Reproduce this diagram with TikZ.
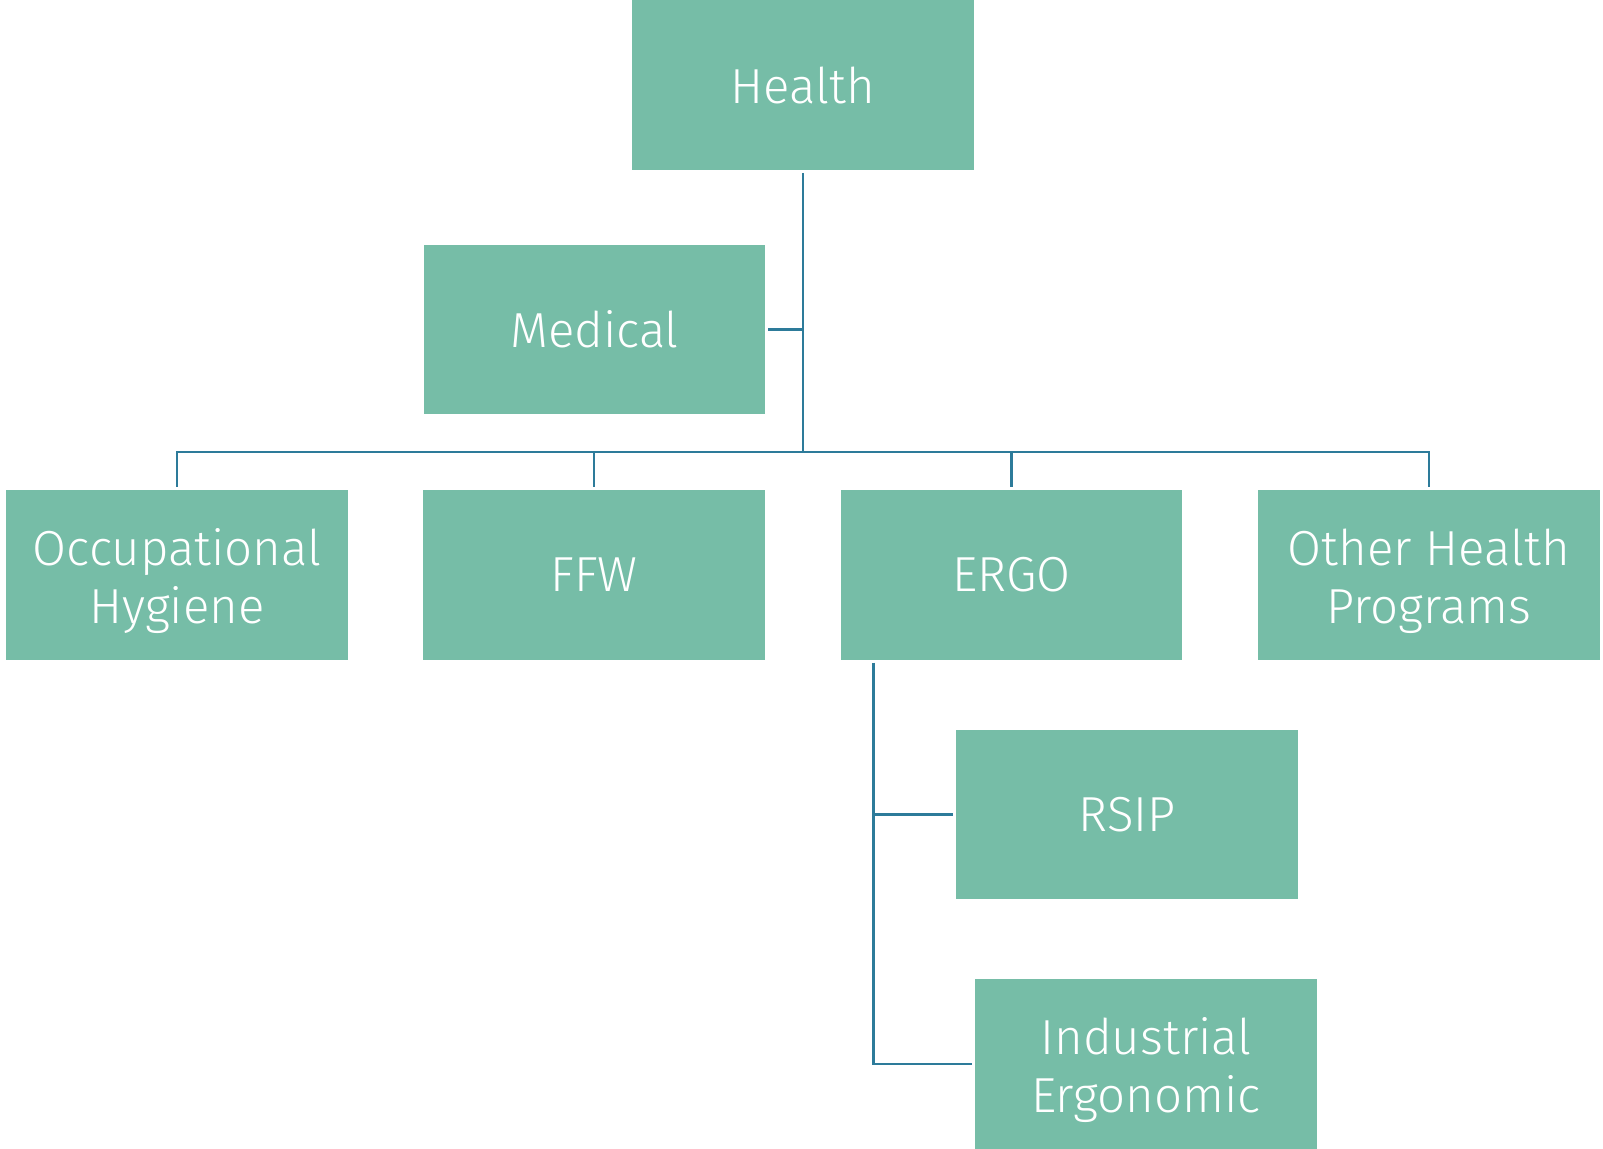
\documentclass[tikz,border=0pt]{standalone}
\usepackage{fontspec}
\setmainfont{Fira Sans}[UprightFont=* Light]
\usetikzlibrary{positioning, calc}

\definecolor{boxgreen}{HTML}{76BDA7}
\definecolor{linkblue}{HTML}{2D7B9A}

% strut that sets two-line labels a little lower in their box
\newcommand{\lowstrut}{\rule{0pt}{\dimexpr\fontcharht\font`\l+6.8pt\relax}}

\begin{document}
\begin{tikzpicture}[
  x=0.02cm, y=-0.02cm,
  unit/.style={
    fill=boxgreen, text=white, align=center, inner sep=0pt,
    minimum width=6.84cm, minimum height=3.4cm, outer sep=1.6pt,
    font=\fontsize{28}{33}\selectfont
  },
  link/.style={draw=linkblue, line width=1.6pt},
]
  \useasboundingbox (0,0) rectangle (1603,1149);

  % --- Top of the tree ---
  \node[unit] (health)  at (803, 85)    {Health};
  \node[unit] (medical) at (594.5, 329.5) {Medical};

  % --- Second row ---
  \node[unit] (occ)   at (177, 575)    {\lowstrut Occupational\\Hygiene};
  \node[unit] (ffw)   at (594, 575)    {FFW};
  \node[unit] (ergo)  at (1011.5, 575) {ERGO};
  \node[unit] (other) at (1429, 575)   {\lowstrut Other Health\\Programs};

  % --- Under ERGO ---
  \node[unit] (rsip)   at (1127, 814.5) {RSIP};
  \node[unit] (indust) at (1146, 1064)  {\lowstrut Industrial\\Ergonomic};

  % --- Connectors ---
  \coordinate (hub) at (803, 452);
  \draw[link] (health.south) -- (hub);
  \draw[link] (medical.east) -- (medical.east -| hub);
  \foreach \n in {occ, ffw, ergo, other}
    \draw[link] (hub) -| (\n.north);

  \coordinate (stem) at ([xshift=0.72cm]ergo.south west);
  \draw[link] (stem) |- (rsip.west);
  \draw[link] (stem) |- (indust.west);

\end{tikzpicture}
\end{document}
